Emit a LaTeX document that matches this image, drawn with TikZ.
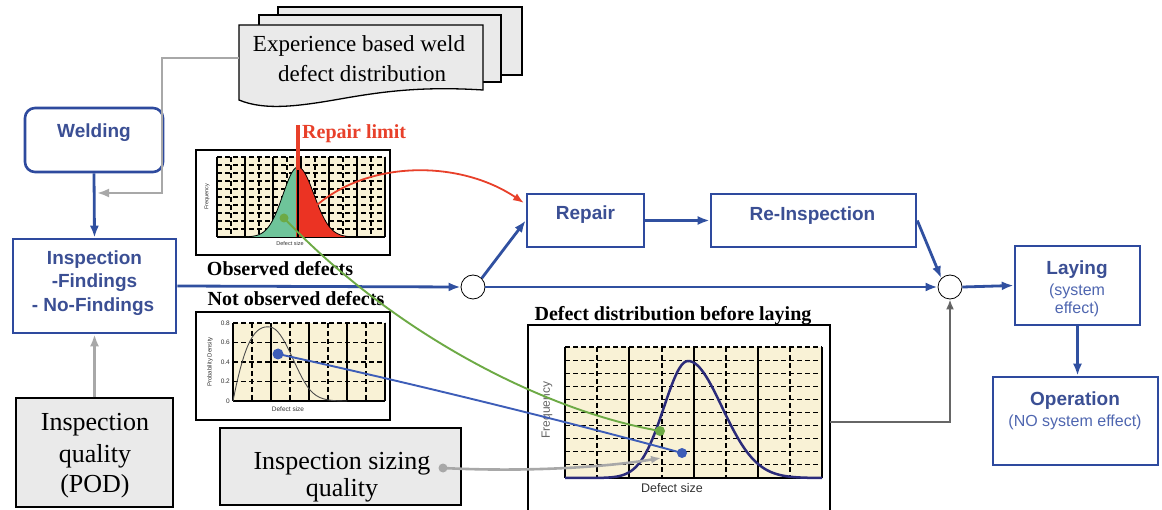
\documentclass[tikz,border=0pt]{standalone}
\usepackage{fontspec}
\setmainfont{Liberation Serif}
\newfontfamily\arialf{Liberation Sans}
\usetikzlibrary{arrows.meta}
\definecolor{bluebox}{HTML}{2E4A9E}
\definecolor{bluetxt}{HTML}{3B4F94}
\definecolor{bluelight}{HTML}{4F66B0}
\definecolor{flowblue}{HTML}{3050A0}
\definecolor{boxgray}{HTML}{EAEAEA}
\definecolor{cream}{HTML}{F9F2D6}
\definecolor{redlim}{HTML}{E8402A}
\definecolor{mint}{HTML}{6EC49A}
\definecolor{redfill}{HTML}{EB3323}
\definecolor{greenl}{HTML}{6DAA45}
\definecolor{bluel}{HTML}{3D5DB8}
\definecolor{grayl}{HTML}{A8A8A8}
\definecolor{dgrayl}{HTML}{666666}
\definecolor{curvec}{HTML}{2B2B7A}
\tikzset{
  bbox/.style={draw=bluebox, line width=2.6pt, fill=white, inner sep=0pt},
  btxt/.style={text=bluetxt, font=\arialf\bfseries\fontsize{19}{22}\selectfont, inner sep=0pt, anchor=base},
  stxt/.style={text=bluelight, font=\arialf\fontsize{16}{19}\selectfont, inner sep=0pt, anchor=base},
  gbox/.style={draw=black, line width=1.3pt, fill=boxgray, inner sep=0pt},
  seriftxt/.style={font=\fontsize{26}{31}\selectfont, inner sep=0pt, anchor=base},
  ttltxt/.style={font=\bfseries\fontsize{20}{24}\selectfont, inner sep=0pt, anchor=base},
  tinytxt/.style={font=\arialf\fontsize{5.5}{6}\selectfont, inner sep=0pt, text=black!80},
  flowarrow/.style={draw=flowblue, line width=2.8pt, -{Latex[length=12pt,width=9pt]}},
  grayarrow/.style={draw=grayl, line width=2.8pt, -{Latex[length=12pt,width=9pt]}},
  junction/.style={circle, draw=black, line width=0.8pt, fill=white, minimum size=24pt, inner sep=0pt},
  docsheet/.style={draw=black, line width=1.3pt, fill=boxgray},
  chartframe/.style={draw=black, line width=1.5pt, fill=white},
  gsolid/.style={draw=black, line width=1.1pt},
  gdash/.style={draw=black, line width=1.1pt, dash pattern=on 5pt off 3pt},
}
\begin{document}
\begin{tikzpicture}[x=1pt,y=-1pt]
\useasboundingbox[fill=white] (0,0) rectangle (1162,510);

% ---------- document stack ----------
\draw[docsheet] (278,7) rectangle (522,75);
\draw[docsheet] (259,15) rectangle (501,82);
\draw[docsheet] (239,25) -- (483,25) -- (483,90) .. controls (420,86) and (380,92) .. (340,99)
  .. controls (300,106) and (265,111) .. (239,100) -- cycle;
\node[seriftxt, font=\fontsize{23}{28}\selectfont] (doct1) at (359,52) {Experience based weld};
\node[seriftxt, font=\fontsize{23}{28}\selectfont] (doct2) at (362,82) {defect distribution};
\coordinate (docL) at (239,58);
\coordinate (g1) at (162,58);
\coordinate (g2) at (162,193);
\coordinate (g3) at (97,193);

% ---------- blue boxes ----------
\node[bbox, rounded corners=10pt, minimum width=138pt, minimum height=64pt] (weld) at (94,140) {};
\node[btxt] (weldt) at (94,138) {Welding};
\node[bbox, minimum width=163pt, minimum height=94pt] (insp) at (94.5,286) {};
\node[btxt] (inspa) at (94.5,265) {Inspection};
\node[btxt] (inspb) at (94.5,288) {-Findings};
\node[btxt] (inspc) at (93,312) {- No-Findings};
\node[bbox, minimum width=117pt, minimum height=53pt] (rep) at (585.5,220.5) {};
\node[btxt] (rept) at (585.5,220) {Repair};
\node[bbox, minimum width=205pt, minimum height=53pt] (reinsp) at (813.5,220.5) {};
\node[btxt] (reinspt) at (812.5,221) {Re-Inspection};
\node[bbox, minimum width=125pt, minimum height=79pt] (lay) at (1077.5,285.5) {};
\node[btxt] (layt) at (1077,275) {Laying};
\node[stxt] (layb) at (1077,296) {(system};
\node[stxt] (layc) at (1077,314) {effect)};
\node[bbox, minimum width=165pt, minimum height=88pt] (oper) at (1075.5,421) {};
\node[btxt] (opert) at (1075,406) {Operation};
\node[stxt] (operb) at (1075,427) {(NO system effect)};

% ---------- junctions ----------
\node[junction] (c1) at (473,287) {};
\node[junction] (c2) at (950,287) {};

% ---------- gray boxes ----------
\node[gbox, minimum width=157pt, minimum height=109pt] (pod) at (94.5,452.5) {};
\node[seriftxt] (poda) at (95,431) {Inspection};
\node[seriftxt] (podb) at (95,462) {quality};
\node[seriftxt] (podc) at (95,492) {(POD)};
\node[gbox, minimum width=241pt, minimum height=77pt] (siz) at (340.5,466.5) {};
\node[seriftxt] (siza) at (342,469) {Inspection sizing};
\node[seriftxt] (sizb) at (342,496) {quality};

% ---------- chart A: observed ----------
\draw[chartframe] (196,150) rectangle (390,255);
\fill[cream] (217,157) rectangle (385,237);
\foreach \i in {0,...,9} \draw[gdash] (217,157+8*\i) -- (385,157+8*\i);
\foreach \x in {231,259,...,371} \draw[gdash] (\x,157) -- (\x,237);
\foreach \x in {217,245,...,385} \draw[gsolid] (\x,157) -- (\x,237);
\draw[gsolid] (217,237) -- (385,237);
\fill[mint] plot[domain=245:298, samples=40] (\x,{237-70*exp(-0.5*((\x-298)/15)^2)}) -- (298,237) -- cycle;
\fill[redfill] plot[domain=298:345, samples=40] (\x,{237-70*exp(-0.5*((\x-298)/16)^2)}) -- (345,237) -- (298,237) -- cycle;
\draw[black, line width=0.8pt] plot[domain=240:298, samples=40] (\x,{237-70*exp(-0.5*((\x-298)/15)^2)});
\draw[black, line width=0.8pt] plot[domain=298:350, samples=40] (\x,{237-70*exp(-0.5*((\x-298)/16)^2)});
\draw[redlim, line width=3.5pt] (298,125) -- (298,237);
\draw[black, line width=2pt] (298,170) -- (298,237);
\node[tinytxt, rotate=90] (fqa) at (207,197) {Frequency};
\node[tinytxt] (dsa) at (290,244) {Defect size};
\node[anchor=base west, inner sep=0pt, text=redlim, font=\bfseries\fontsize{20}{24}\selectfont] (rlim) at (302,139) {Repair limit};
\node[ttltxt] (obs) at (280,276) {Observed defects};
\node[ttltxt] (nobs) at (296,306) {Not observed defects};

% ---------- chart B: not observed ----------
\draw[chartframe] (196,312) rectangle (390,420);
\fill[cream] (233,323) rectangle (385,401);
\foreach \y in {323,342.5,362,381.5} \draw[gdash] (233,\y) -- (385,\y);
\foreach \x in {252,290,328,366} \draw[gdash] (\x,323) -- (\x,401);
\foreach \x in {233,271,309,347,385} \draw[gsolid] (\x,323) -- (\x,401);
\draw[gsolid] (233,401) -- (385,401);
\draw[black!70, line width=0.9pt] (233,401) .. controls (245,340) and (255,325) .. (270,327)
  .. controls (285,329) and (295,372) .. (310,390) .. controls (318,399) and (326,401) .. (347,401);
\node[tinytxt, anchor=east, font=\arialf\fontsize{6.5}{7}\selectfont] (t8) at (230,323) {0.8};
\node[tinytxt, anchor=east, font=\arialf\fontsize{6.5}{7}\selectfont] (t6) at (230,342.5) {0.6};
\node[tinytxt, anchor=east, font=\arialf\fontsize{6.5}{7}\selectfont] (t4) at (230,362) {0.4};
\node[tinytxt, anchor=east, font=\arialf\fontsize{6.5}{7}\selectfont] (t2) at (230,381.5) {0.2};
\node[tinytxt, anchor=east, font=\arialf\fontsize{6.5}{7}\selectfont] (t0) at (230,401) {0};
\node[tinytxt, rotate=90, font=\arialf\fontsize{6}{7}\selectfont] (pdb) at (210,362) {Probability Density};
\node[tinytxt, font=\arialf\fontsize{6.5}{7}\selectfont] (dsb) at (288,409) {Defect size};

% ---------- chart C: before laying ----------
\draw[black, line width=1.5pt] (528,510) -- (528,325) -- (830,325) -- (830,510);
\fill[cream] (565,347) rectangle (822,478);
\foreach \i in {0,...,9} \draw[gdash] (565,347+13.1*\i) -- (822,347+13.1*\i);
\foreach \x in {597,662,726,790} \draw[gdash] (\x,347) -- (\x,478);
\foreach \x in {565,629,694,758,822} \draw[gsolid] (\x,347) -- (\x,478);
\draw[gsolid] (565,478) -- (822,478);
\draw[curvec, line width=2.5pt] plot[domain=565:688, samples=60] (\x,{478-117*exp(-0.5*((\x-688)/24)^2)});
\draw[curvec, line width=2.5pt] plot[domain=688:822, samples=60] (\x,{478-117*exp(-0.5*((\x-688)/34)^2)});
\node[rotate=90, inner sep=0pt, text=black!60, font=\arialf\fontsize{12}{14}\selectfont] (fqc) at (547,410) {Frequency};
\node[inner sep=0pt, text=black!80, font=\arialf\fontsize{12.5}{14}\selectfont] (dsc) at (672,488) {Defect size};
\node[ttltxt] (ttlc) at (673,321) {Defect distribution before laying};

% ---------- connectors ----------
\draw[grayarrow] (docL) -- (g1) -- (g2) -- (g3);
\draw[grayarrow] (pod.north) -- (insp.south);
\draw[flowarrow] (weld.south) -- (insp.north);
\draw[flowarrow] (insp.east) -- (c1.west);
\draw[flowarrow] (c1.45) -- (rep.west);
\draw[flowarrow] (c1.east) -- (c2.west);
\draw[flowarrow] (rep.east) -- (reinsp.west);
\draw[flowarrow] (reinsp.east) -- (c2.north west);
\draw[flowarrow] (c2.east) -- (lay.west);
\draw[flowarrow] (lay.south) -- (lay.south |- oper.north);
\coordinate (cR) at (830,422);
\draw[dgrayl, line width=2.2pt, -{Latex[length=10pt,width=8pt,fill=black]}] (cR) -- (cR -| c2) -- (c2.south);

% red arrow
\coordinate (rs) at (317,205);
\coordinate (re) at (524,203);
\draw[redlim, line width=1.8pt, -{Latex[length=11pt,width=8pt]}] (rs) .. controls (370,160) and (460,160) .. (re);

% green, blue, gray curves
\coordinate (gA) at (284,218);
\coordinate (gB) at (660,431);
\draw[greenl, line width=1.9pt] (gA) .. controls (390,330) and (540,410) .. (gB);
\fill[greenl] (gA) circle (4.5pt);
\fill[greenl] (gB) circle (5pt);
\coordinate (bA) at (278,354);
\coordinate (bB) at (682,453);
\draw[bluel, line width=1.9pt] (bA) .. controls (420,385) and (580,425) .. (bB);
\fill[bluel] (bA) circle (5.5pt);
\fill[bluel] (bB) circle (5pt);
\coordinate (sA) at (443,468);
\coordinate (sB) at (661,458);
\draw[grayl, line width=2.6pt, -{Latex[length=10pt,width=8pt]}] (sA) .. controls (520,472) and (600,468) .. (sB);
\fill[grayl] (sA) circle (4.5pt);
\end{tikzpicture}
\end{document}
